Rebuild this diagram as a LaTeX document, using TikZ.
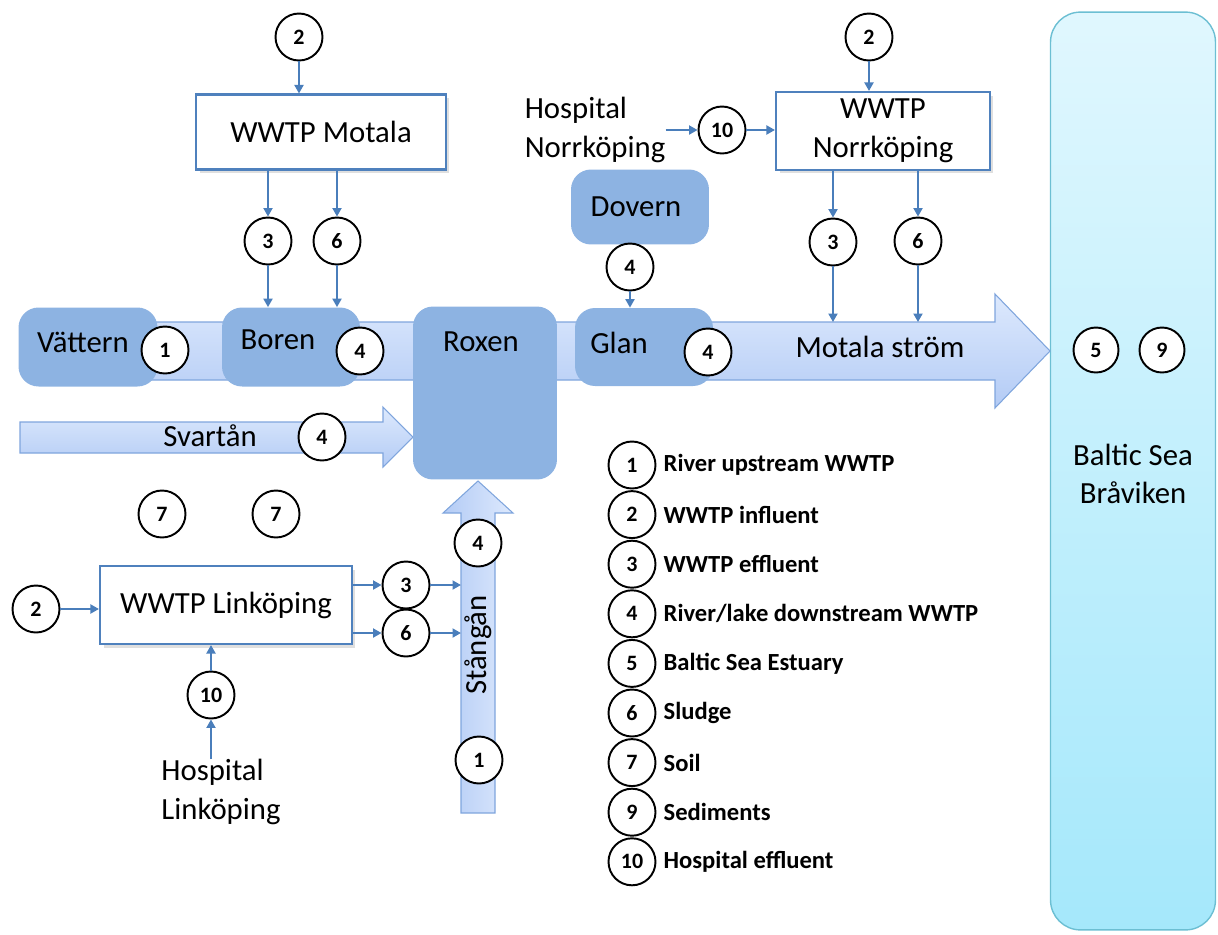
\documentclass[tikz,border=0pt]{standalone}
\usepackage{fontspec}
\setmainfont{Carlito}
\usepackage{tikz}
\usetikzlibrary{
	positioning,
	arrows.meta,
	shadows
}

\definecolor{bandlt}{HTML}{DDE9FD}
\definecolor{banddk}{HTML}{B3CBF5}
\definecolor{bandedge}{HTML}{7FA5DD}
\definecolor{lakeblue}{HTML}{8DB3E2}
\definecolor{wwtpblue}{HTML}{4F81BD}
\definecolor{arrowblue}{HTML}{4A7EBB}
\definecolor{sealt}{HTML}{E0F7FE}
\definecolor{seadk}{HTML}{A5E8FB}
\definecolor{seaedge}{HTML}{6CBFD3}

\begin{document}
\begin{tikzpicture}[x=0.02cm,y=-0.02cm,
	num/.style={circle,draw=black,line width=1.1pt,fill=white,minimum size=0.94cm,
		inner sep=0pt,font=\fontsize{12.5}{12.5}\selectfont\bfseries},
	wwtp/.style={rectangle,draw=wwtpblue,line width=1.2pt,fill=white,align=center,
		font=\fontsize{17.5}{22}\selectfont,
		drop shadow={opacity=0.25,shadow xshift=0.07cm,shadow yshift=-0.07cm}},
	lake/.style={rectangle,rounded corners=0.4cm,fill=lakeblue,inner sep=0pt},
	lbl/.style={font=\fontsize{17.5}{22}\selectfont,align=left,inner sep=0pt},
	key/.style={font=\fontsize{14}{16}\selectfont\bfseries,anchor=west},
	flow/.style={draw=arrowblue,line width=1.1pt,-{Triangle[length=1.7mm,width=1.8mm]}}
]
	\useasboundingbox (0,0) rectangle (1218,934);

	% sea
	\node[rectangle,rounded corners=0.6cm,draw=seaedge,line width=0.8pt,
		top color=sealt,bottom color=seadk,minimum width=3.3cm,minimum height=18.36cm]
		(baltic) at (1133,471) {};

	% rivers
	\path[draw=bandedge,line width=0.6pt,top color=bandlt,bottom color=banddk]
		(40,322) -- (995,322) -- (995,294) -- (1050,351) -- (995,408)
		-- (995,380) -- (40,380) -- cycle;
	\path[draw=bandedge,line width=0.6pt,top color=bandlt,bottom color=banddk]
		(20,422) -- (383,422) -- (383,407) -- (413,437) -- (383,467)
		-- (383,453) -- (20,453) -- cycle;
	\path[draw=bandedge,line width=0.6pt,left color=banddk,right color=bandlt]
		(461,813) -- (461,513) -- (443,513) -- (478,481) -- (513,513)
		-- (495,513) -- (495,813) -- cycle;
	\coordinate (bandtop) at (0,322);
	\coordinate (stw) at (461,0);

	% lakes
	\node[lake,minimum width=2.78cm,minimum height=1.58cm] (vattern) at (88,347) {};
	\node[lake,minimum width=2.76cm,minimum height=1.58cm] (boren) at (291,347) {};
	\node[lake,minimum width=2.88cm,minimum height=3.46cm] (roxen) at (485,393) {};
	\node[lake,minimum width=2.76cm,minimum height=1.56cm] (glan) at (644,347) {};
	\node[lake,minimum width=2.76cm,minimum height=1.50cm] (dovern) at (640,207) {};

	\node[lbl] (vatT) at (83,342) {Vättern};
	\node[lbl] (borT) at (278,340) {Boren};
	\node[lbl] (roxT) at (481,342) {Roxen};
	\node[lbl] (glaT) at (619,343) {Glan};
	\node[lbl] (dovT) at (636,207) {Dovern};
	\node[lbl] (motT) at (880,347) {Motala ström};
	\node[lbl] (svaT) at (210,436) {Svartån};
	\node[lbl,rotate=90] (staT) at (478,645) {Stångån};
	\node[lbl,align=center] (balT) at (1133,474) {Baltic Sea\\Bråviken};

	% treatment plants
	\node[wwtp,minimum width=5cm,minimum height=1.5cm] (motala) at (321,132) {WWTP Motala};
	\node[wwtp,minimum width=4.28cm,minimum height=1.56cm] (norrk) at (883,131) {WWTP\\Norrköping};
	\node[wwtp,minimum width=5.04cm,minimum height=1.56cm] (linkp) at (226,605) {WWTP Linköping};

	\node[lbl] (hosN) at (595,130) {Hospital\\Norrköping};
	\node[lbl] (hosL) at (221,792) {Hospital\\Linköping};

	% sampling points
	\node[num] (m2) at (299,37) {2};
	\node[num] (m3) at (268,241) {3};
	\node[num] (m6) at (337,241) {6};
	\node[num] (n2) at (869,37) {2};
	\node[num] (n10) at (722,130) {10};
	\node[num] (n3) at (833,242) {3};
	\node[num] (n6) at (918,241) {6};
	\node[num] (d4) at (630,267) {4};
	\node[num] (v1) at (165,350) {1};
	\node[num] (b4) at (360,351) {4};
	\node[num] (g4) at (708,352) {4};
	\node[num] (s4) at (322,437) {4};
	\node[num] (st4) at (478,543) {4};
	\node[num] (st1) at (479,760) {1};
	\node[num] (k7a) at (162,514) {7};
	\node[num] (k7b) at (276,514) {7};
	\node[num] (l2) at (36,609) {2};
	\node[num] (l3) at (406,585) {3};
	\node[num] (l6) at (406,633) {6};
	\node[num] (l10) at (211,695) {10};
	\node[num,minimum size=0.9cm] (s5) at (1096,350) {5};
	\node[num,minimum size=0.9cm] (s9) at (1162,350) {9};

	% flows
	\draw[flow] (m2) -- (m2 |- motala.north);
	\draw[flow] (motala.south -| m3) -- (m3);
	\draw[flow] (motala.south -| m6) -- (m6);
	\draw[flow] (m3) -- (m3 |- boren.north);
	\draw[flow] (m6) -- (m6 |- boren.north);

	\draw[flow] (n2) -- (n2 |- norrk.north);
	\draw[flow] (hosN.east |- n10) -- (n10);
	\draw[flow] (n10) -- (n10 -| norrk.west);
	\draw[flow] (norrk.south -| n3) -- (n3);
	\draw[flow] (norrk.south -| n6) -- (n6);
	\draw[flow] (n3) -- (n3 |- bandtop);
	\draw[flow] (n6) -- (n6 |- bandtop);

	\draw[flow] (d4) -- (d4 |- glan.north);

	\draw[flow] (l2) -- (l2 -| linkp.west);
	\draw[flow] (l3 -| linkp.east) -- (l3);
	\draw[flow] (l6 -| linkp.east) -- (l6);
	\draw[flow] (l3) -- (l3 -| stw);
	\draw[flow] (l6) -- (l6 -| stw);
	\draw[flow] (hosL.north -| l10) -- (l10);
	\draw[flow] (l10) -- (l10 |- linkp.south);

	% key
	\foreach \n/\t [count=\i] in {1/River upstream WWTP,2/WWTP influent,3/WWTP effluent,
		4/River\slash lake downstream WWTP,5/Baltic Sea Estuary,6/Sludge,7/Soil,
		9/Sediments,10/Hospital effluent}
	{
		\node[num] (key\i) at (632,{465+49.6*(\i-1)}) {\n};
		\node[key,right=0.02cm of key\i] (keyT\i) {\t};
	}
\end{tikzpicture}
\end{document}
